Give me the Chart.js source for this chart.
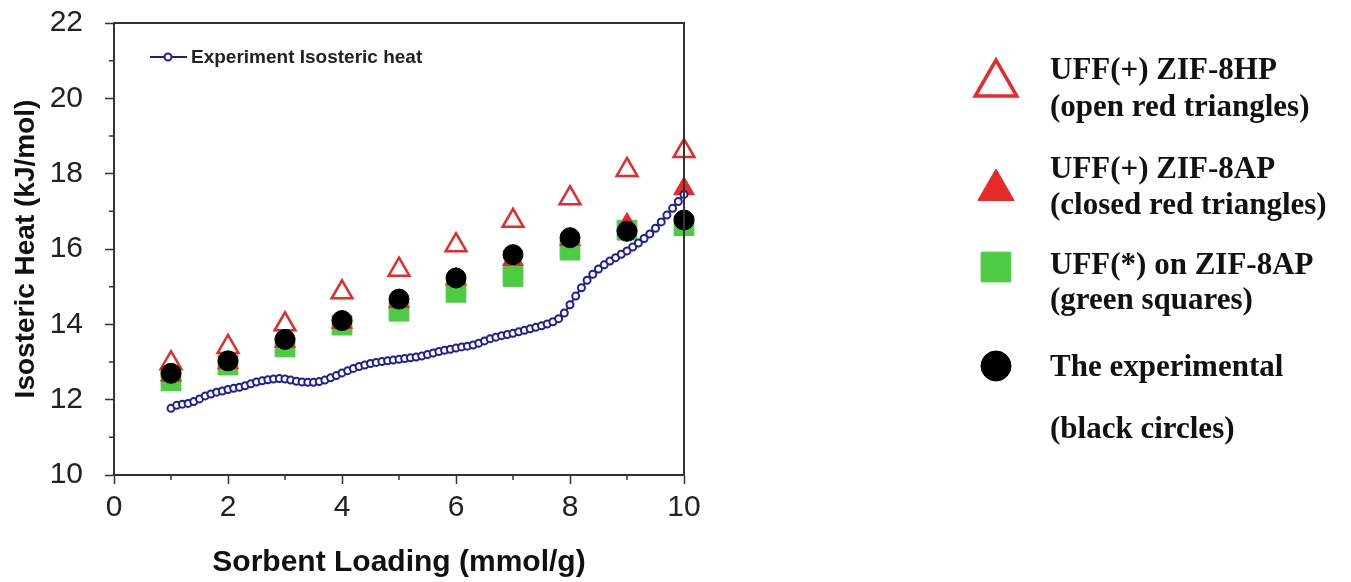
<!DOCTYPE html>
<html>
<head>
<meta charset="utf-8">
<script src="https://cdn.jsdelivr.net/npm/chart.js@4"></script>
<style>
  html, body { margin: 0; padding: 0; background: #fff; }
  #wrap { width: 1351px; height: 582px; }
</style>
</head>
<body>
<div id="wrap"><canvas id="chartHeat" width="1351" height="582"></canvas></div>
<script>
// loading values (mmol/g) for the simulated / experimental points
var loadings = [1, 2, 3, 4, 5, 6, 7, 8, 9, 10];
var uffHP = [12.97, 13.4, 14.0, 14.85, 15.45, 16.1, 16.75, 17.35, 18.1, 18.6];
var uffAP = [12.65, 12.98, 13.55, 14.05, 14.6, 15.2, 15.72, 16.25, 16.65, 17.6];
var uffStarAP = [12.5, 12.92, 13.4, 13.98, 14.35, 14.85, 15.27, 15.97, 16.5, 16.62];
var experimental = [12.7, 13.03, 13.6, 14.1, 14.67, 15.23, 15.85, 16.3, 16.47, 16.77];

// experiment isosteric heat curve
var curveX = [1.0, 1.1, 1.2, 1.3, 1.4, 1.5, 1.6, 1.7, 1.8, 1.9,
              2.0, 2.1, 2.2, 2.3, 2.4, 2.5, 2.6, 2.7, 2.8, 2.9,
              3.0, 3.1, 3.2, 3.3, 3.4, 3.5, 3.6, 3.7, 3.8, 3.9,
              4.0, 4.1, 4.2, 4.3, 4.4, 4.5, 4.6, 4.7, 4.8, 4.9,
              5.0, 5.1, 5.2, 5.3, 5.4, 5.5, 5.6, 5.7, 5.8, 5.9,
              6.0, 6.1, 6.2, 6.3, 6.4, 6.5, 6.6, 6.7, 6.8, 6.9,
              7.0, 7.1, 7.2, 7.3, 7.4, 7.5, 7.6, 7.7, 7.8, 7.9,
              8.0, 8.1, 8.2, 8.3, 8.4, 8.5, 8.6, 8.7, 8.8, 8.9,
              9.0, 9.1, 9.2, 9.3, 9.4, 9.5, 9.6, 9.7, 9.8, 9.9, 10.0];
var curveY = [11.77, 11.85, 11.88, 11.9, 11.95, 12.02, 12.1, 12.15, 12.2, 12.23,
              12.27, 12.3, 12.33, 12.37, 12.42, 12.47, 12.5, 12.53, 12.55, 12.56,
              12.55, 12.52, 12.49, 12.47, 12.46, 12.46, 12.48, 12.52, 12.58, 12.64,
              12.71, 12.77, 12.83, 12.88, 12.92, 12.96, 12.99, 13.01, 13.03, 13.05,
              13.07, 13.09, 13.11, 13.13, 13.16, 13.2, 13.24, 13.28, 13.31, 13.34,
              13.37, 13.4, 13.42, 13.45, 13.5, 13.56, 13.62, 13.66, 13.7, 13.73,
              13.76, 13.8, 13.84, 13.88, 13.92, 13.96, 14.01, 14.07, 14.15, 14.3,
              14.52, 14.75, 14.97, 15.17, 15.33, 15.47, 15.58, 15.68, 15.77, 15.86,
              15.95, 16.05, 16.16, 16.28, 16.4, 16.55, 16.72, 16.9, 17.08, 17.26, 17.45];

var xTicks = [0, 2, 4, 6, 8, 10];
var yTicks = [10, 12, 14, 16, 18, 20, 22];
var xMinor = [1, 3, 5, 7, 9];
var yMinor = [11, 13, 15, 17, 19, 21];

var legendRows = [
    ["UFF(+) ZIF-8HP", "(open red triangles)"],
    ["UFF(+) ZIF-8AP", "(closed red triangles)"],
    ["UFF(*) on ZIF-8AP", "(green squares)"],
    ["The experimental", "(black circles)"]
];

var RED = "#e62a28";
var GREEN = "#4fcb43";
var NAVY = "#1f1f9e";
var AXIS = "#333";
var SANS = "'Liberation Sans', Arial, sans-serif";

function pts(xs, ys){
    return xs.map(function(x, i){ return {x: x, y: ys[i]}; });
}

/* --------------------------
   FRAME + MINOR TICKS
--------------------------- */
var framePlugin = {
    id: "frame",
    afterDraw: function(chart){
        var ctx = chart.ctx, a = chart.chartArea;
        var xs = chart.scales.x, ys = chart.scales.y;
        ctx.save();
        ctx.strokeStyle = AXIS;
        ctx.lineWidth = 2;
        ctx.beginPath();
        ctx.moveTo(a.left, a.top);
        ctx.lineTo(a.right, a.top);
        ctx.lineTo(a.right, a.bottom);
        ctx.stroke();

        ctx.lineWidth = 1.5;
        ctx.beginPath();
        xMinor.forEach(function(v){
            var px = xs.getPixelForValue(v);
            ctx.moveTo(px, a.bottom);
            ctx.lineTo(px, a.bottom + 5);
        });
        yMinor.forEach(function(v){
            var py = ys.getPixelForValue(v);
            ctx.moveTo(a.left, py);
            ctx.lineTo(a.left - 5, py);
        });
        ctx.stroke();
        ctx.restore();
    }
};

/* --------------------------
   LEGENDS (inset + right)
--------------------------- */
var legendPlugin = {
    id: "legends",
    afterDraw: function(chart){
        var ctx = chart.ctx, a = chart.chartArea;
        var dp = Chart.helpers.drawPoint;
        ctx.save();

        // inset legend for the curve
        var lx = a.left + 36, ly = a.top + 34;
        ctx.strokeStyle = NAVY;
        ctx.lineWidth = 2;
        ctx.beginPath();
        ctx.moveTo(lx, ly);
        ctx.lineTo(lx + 37, ly);
        ctx.stroke();
        ctx.fillStyle = "#fff";
        ctx.lineWidth = 2;
        dp(ctx, {pointStyle: "circle", radius: 3.5, borderWidth: 2}, lx + 18, ly);
        ctx.fillStyle = "#222";
        ctx.font = "bold 19px " + SANS;
        ctx.textAlign = "left";
        ctx.textBaseline = "middle";
        ctx.fillText("Experiment Isosteric heat", lx + 41, ly + 1);

        // right legend
        var mx = 996, tx = 1050;
        var base = [[79, 116], [178, 214], [274, 309], [376, 438]];
        var marks = [
            {style: "triangle", r: 24, fill: "#fff", stroke: RED, y: 84, bw: 3.5},
            {style: "triangle", r: 21, fill: RED, stroke: RED, y: 190, bw: 1},
            {style: "rect", r: 21, fill: GREEN, stroke: GREEN, y: 267, bw: 1},
            {style: "circle", r: 15, fill: "#000", stroke: "#000", y: 366, bw: 1}
        ];
        marks.forEach(function(m){
            ctx.fillStyle = m.fill;
            ctx.strokeStyle = m.stroke;
            ctx.lineWidth = m.bw;
            dp(ctx, {pointStyle: m.style, radius: m.r, borderWidth: m.bw}, mx, m.y);
        });
        ctx.fillStyle = "#111";
        ctx.font = "bold 31px 'Liberation Serif', 'Times New Roman', serif";
        ctx.textBaseline = "alphabetic";
        legendRows.forEach(function(row, i){
            ctx.fillText(row[0], tx, base[i][0]);
            ctx.fillText(row[1], tx, base[i][1]);
        });
        ctx.restore();
    }
};

/* --------------------------
   CHART
--------------------------- */
new Chart(document.getElementById("chartHeat"), {
    type: "scatter",
    data: {
        datasets: [
            {
                label: "Experiment Isosteric heat",
                data: pts(curveX, curveY),
                showLine: true,
                borderColor: NAVY,
                borderWidth: 2,
                pointRadius: 3.5,
                pointBorderWidth: 2,
                pointBorderColor: NAVY,
                pointBackgroundColor: "#fff",
                clip: false,
                order: 0
            },
            {
                label: "The experimental",
                data: pts(loadings, experimental),
                pointStyle: "circle",
                pointRadius: 10,
                backgroundColor: "#000",
                borderColor: "#000",
                clip: false,
                order: 1
            },
            {
                label: "UFF(+) ZIF-8HP",
                data: pts(loadings, uffHP),
                pointStyle: "triangle",
                pointRadius: 12,
                pointBorderWidth: 2.5,
                backgroundColor: "rgba(255,255,255,0)",
                borderColor: RED,
                clip: false,
                order: 2
            },
            {
                label: "UFF(+) ZIF-8AP",
                data: pts(loadings, uffAP),
                pointStyle: "triangle",
                pointRadius: 12,
                backgroundColor: RED,
                borderColor: RED,
                clip: false,
                order: 3
            },
            {
                label: "UFF(*) on ZIF-8AP",
                data: pts(loadings, uffStarAP),
                pointStyle: "rect",
                pointRadius: 14,
                backgroundColor: GREEN,
                borderColor: GREEN,
                clip: false,
                order: 4
            }
        ]
    },
    options: {
        responsive: false,
        animation: false,
        layout: { padding: { left: 0, top: 23, right: 667, bottom: 0 } },
        plugins: {
            legend: { display: false },
            tooltip: { enabled: false }
        },
        scales: {
            x: {
                type: "linear",
                min: 0,
                max: 10,
                afterBuildTicks: function(s){ s.ticks = xTicks.map(function(v){ return {value: v}; }); },
                afterFit: function(s){ s.height = 107; },
                grid: { drawOnChartArea: false, tickLength: 9, tickColor: AXIS, tickWidth: 1.5 },
                border: { color: AXIS, width: 2 },
                ticks: {
                    padding: 6,
                    color: "#222",
                    font: { family: SANS, size: 30 }
                },
                title: {
                    display: true,
                    text: "Sorbent Loading (mmol/g)",
                    color: "#111",
                    padding: { top: 0, bottom: 1 },
                    font: { family: SANS, size: 30, weight: "bold" }
                }
            },
            y: {
                type: "linear",
                min: 10,
                max: 22,
                afterBuildTicks: function(s){ s.ticks = yTicks.map(function(v){ return {value: v}; }); },
                afterFit: function(s){
                    s.width = 114;
                    s.paddingTop = 0;
                    s.paddingBottom = 0;
                },
                grid: { drawOnChartArea: false, tickLength: 9, tickColor: AXIS, tickWidth: 1.5 },
                border: { color: AXIS, width: 2 },
                ticks: {
                    padding: 22,
                    color: "#222",
                    font: { family: SANS, size: 30 }
                },
                title: {
                    display: true,
                    text: "Isosteric Heat (kJ/mol)",
                    color: "#111",
                    padding: { top: 9, bottom: 0 },
                    font: { family: SANS, size: 28, weight: "bold" }
                }
            }
        }
    },
    plugins: [framePlugin, legendPlugin]
});
</script>
</body>
</html>
